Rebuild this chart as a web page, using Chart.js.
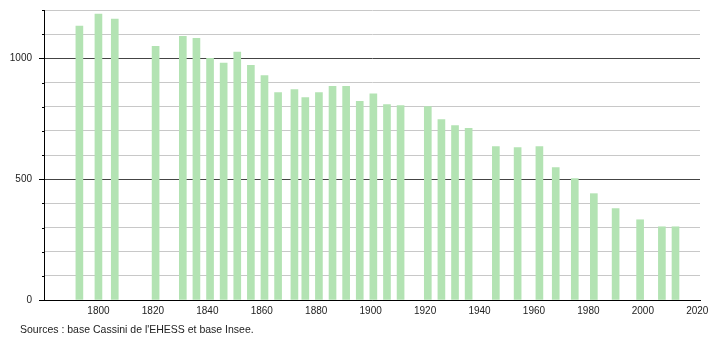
<!DOCTYPE html>
<html>
<head>
<meta charset="utf-8">
<script src="https://cdn.jsdelivr.net/npm/chart.js@4/dist/chart.umd.min.js"></script>
<style>
  html, body { margin: 0; padding: 0; background: #fff; }
  #wrap { width: 710px; height: 340px; }
</style>
</head>
<body>
<div id="wrap"><canvas id="popChart" width="710" height="340"></canvas></div>
<script>
// census years and population
const years = [1793, 1800, 1806, 1821, 1831, 1836, 1841, 1846, 1851, 1856, 1861, 1866,
  1872, 1876, 1881, 1886, 1891, 1896, 1901, 1906, 1911, 1921, 1926, 1931, 1936,
  1946, 1954, 1962, 1968, 1975, 1982, 1990, 1999, 2007, 2012];
const population = [1133, 1183, 1162, 1050, 1091, 1083, 1000, 980, 1026, 971, 929, 858,
  871, 838, 858, 884, 884, 822, 853, 809, 805, 800, 747, 722, 710,
  635, 631, 635, 548, 502, 440, 378, 332, 303, 303];
const xLabels = [1800, 1820, 1840, 1860, 1880, 1900, 1920, 1940, 1960, 1980, 2000, 2020];
const yLabels = [0, 500, 1000];
const sourceText = "Sources : base Cassini de l'EHESS et base Insee.";

const font = { family: "'Liberation Sans', Arial, sans-serif", size: 10 };

// small tick marks left of the y axis, longer for labelled values
const yTicksPlugin = {
  id: 'yTicks',
  afterDraw(chart) {
    const ctx = chart.ctx;
    const y = chart.scales.y;
    const left = chart.chartArea.left;
    ctx.save();
    ctx.strokeStyle = '#000';
    ctx.lineWidth = 1;
    y.ticks.forEach(t => {
      const py = Math.round(y.getPixelForValue(t.value)) + 0.5;
      const len = yLabels.includes(t.value) ? 5 : 2;
      ctx.beginPath();
      ctx.moveTo(left - len, py);
      ctx.lineTo(left, py);
      ctx.stroke();
    });
    ctx.fillStyle = '#222';
    ctx.font = '10.5px ' + font.family;
    ctx.textBaseline = 'alphabetic';
    ctx.fillText(sourceText, 20, 333);
    ctx.restore();
  }
};

new Chart(document.getElementById('popChart'), {
  type: 'bar',
  data: {
    datasets: [{
      data: years.map((yr, i) => ({ x: yr, y: population[i] })),
      backgroundColor: '#b3e3b3',
      borderWidth: 0,
      barThickness: 7
    }]
  },
  options: {
    responsive: false,
    animation: false,
    layout: { padding: { top: 10, right: 10, left: 0, bottom: 0 } },
    plugins: {
      legend: { display: false },
      tooltip: { enabled: false }
    },
    scales: {
      x: {
        type: 'linear',
        offset: false,
        min: 1780,
        max: 2021,
        afterBuildTicks: s => { s.ticks = xLabels.map(v => ({ value: v })); },
        grid: { display: false, drawTicks: false, offset: false },
        border: { color: '#000', width: 1 },
        ticks: {
          padding: 5,
          maxRotation: 0,
          autoSkip: false,
          color: '#222',
          font: font,
          callback: v => String(v)
        },
        afterFit: s => { s.height = 40; s.paddingLeft = 0; s.paddingRight = 0; }
      },
      y: {
        min: 0,
        max: 1200,
        grid: {
          drawTicks: false,
          color: c => (c.tick && c.tick.value % 500 === 0 ? '#444' : '#c8c8c8'),
          lineWidth: 1
        },
        border: { color: '#000', width: 1 },
        ticks: {
          stepSize: 100,
          padding: 12,
          color: '#222',
          font: font,
          callback: v => (yLabels.includes(v) ? String(v) : '')
        },
        afterFit: s => { s.width = 44; s.paddingTop = 0; s.paddingBottom = 0; }
      }
    }
  },
  plugins: [yTicksPlugin]
});
</script>
</body>
</html>
